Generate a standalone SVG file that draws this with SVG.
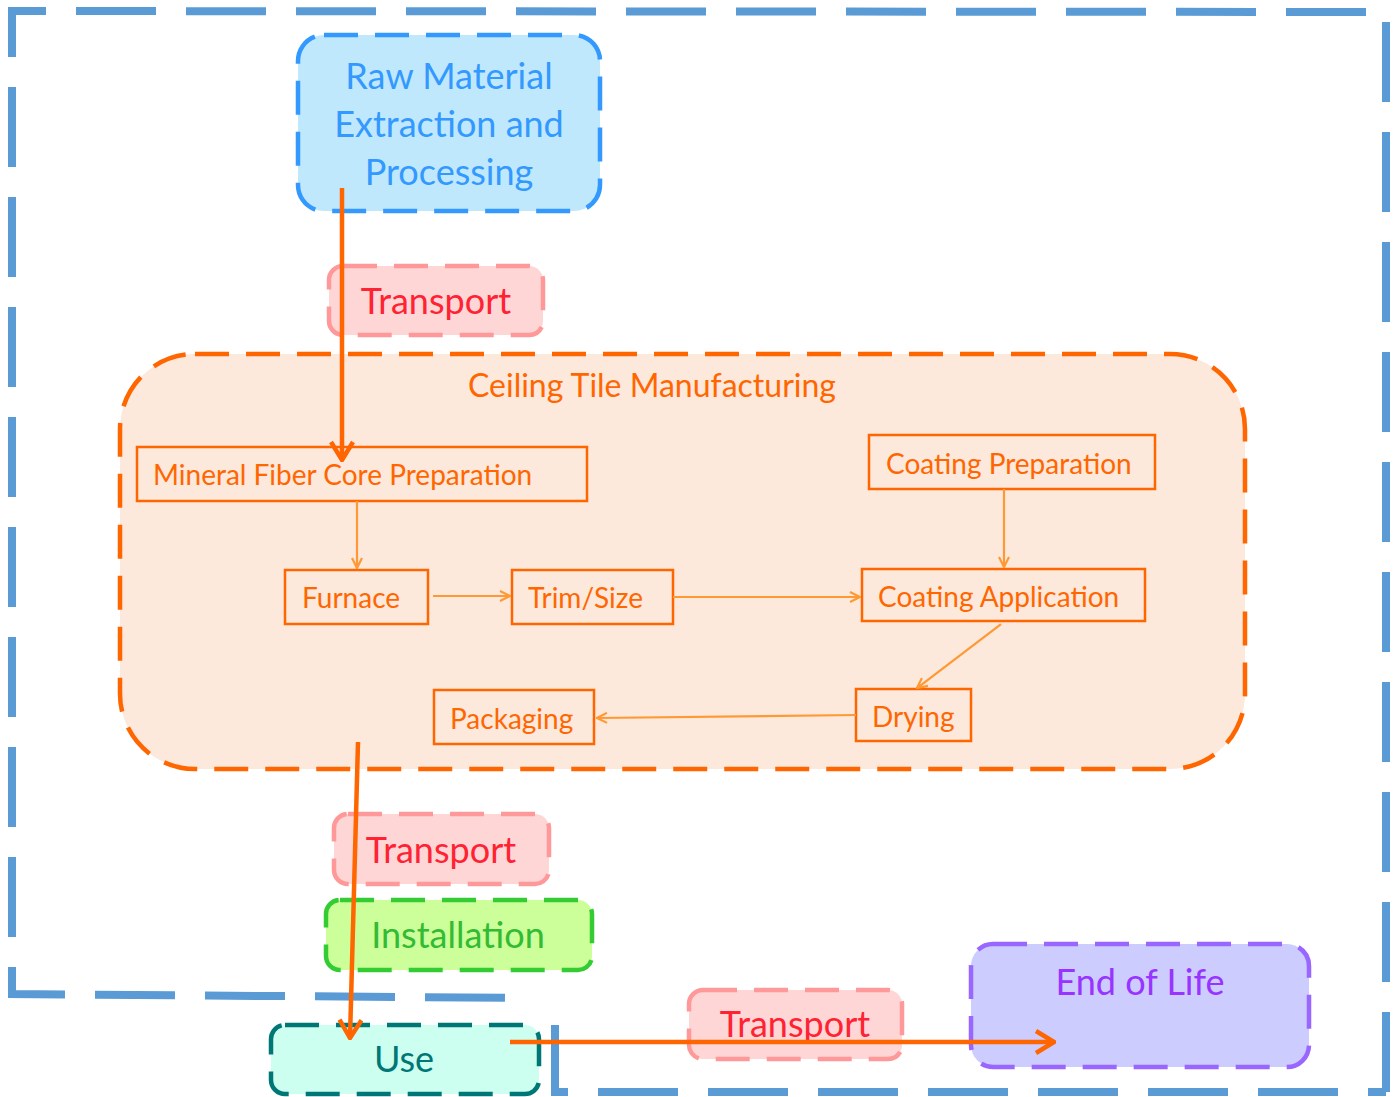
<svg xmlns="http://www.w3.org/2000/svg" width="1397" height="1097" viewBox="0 0 1397 1097">
<style>
text{font-family:Lato,"Liberation Sans",sans-serif}
.bnd{fill:none;stroke:#5b9bd5;stroke-width:8;stroke-dasharray:80 30}
.big{stroke-width:4.5;stroke-dasharray:34 17}
.step{fill:none;stroke:#ff6600;stroke-width:2.5}
.st{fill:#ff6600;font-size:28px}
.thin{fill:none;stroke:#ff9933;stroke-width:2.2}
.thick{fill:none;stroke:#ff6600;stroke-width:4.5}
.tr rect{fill:#ffd6d6;stroke:#ff9999}
.tr text{fill:#ff2233}
.lbl{font-size:36px;text-anchor:middle}
</style>
<defs>
<marker id="ah" viewBox="0 0 12 12" refX="11" refY="6" markerWidth="12" markerHeight="12" markerUnits="userSpaceOnUse" orient="auto">
<path d="M1,1 L11,6 L1,11" fill="none" stroke="#ff9933" stroke-width="2.2"/>
</marker>
<marker id="ahb" viewBox="0 0 22 26" refX="20" refY="13" markerWidth="22" markerHeight="26" markerUnits="userSpaceOnUse" orient="auto">
<path d="M2,2 L20,13 L2,24" fill="none" stroke="#ff6600" stroke-width="4.5"/>
</marker>
</defs>
<g id="boundary">
<path class="bnd" d="M1386,1092 L1386,12 L12,11 L12,994 L528,998"/>
<path class="bnd" d="M555,1025 L555,1092 L1386,1092"/>
</g>
<g id="raw">
<rect x="298" y="35" width="302" height="176" rx="26" fill="#c0e8fc" stroke="#3399ff" class="big"/>
<text class="lbl" x="449" y="89" fill="#3399ff">Raw Material</text>
<text class="lbl" x="449" y="137" fill="#3399ff">Extraction and</text>
<text class="lbl" x="449" y="185" fill="#3399ff">Processing</text>
</g>
<g id="transport1" class="tr">
<rect x="329" y="266" width="214" height="69" rx="14" class="big" stroke-width="3"/>
<text class="lbl" x="436" y="314">Transport</text>
</g>
<g id="manufacturing">
<rect x="120" y="354" width="1125" height="415" rx="75" fill="#fde8dc" stroke="#ff6600" class="big"/>
<text x="652" y="397" fill="#ff6600" font-size="32" text-anchor="middle">Ceiling Tile Manufacturing</text>
</g>
<g id="mineral"><rect class="step" x="137" y="447" width="450" height="54"/><text class="st" x="153" y="485">Mineral Fiber Core Preparation</text></g>
<g id="coatprep"><rect class="step" x="869" y="435" width="286" height="54"/><text class="st" x="886" y="474">Coating Preparation</text></g>
<g id="furnace"><rect class="step" x="285" y="570" width="143" height="54"/><text class="st" x="302" y="608">Furnace</text></g>
<g id="trim"><rect class="step" x="512" y="570" width="161" height="54"/><text class="st" x="528" y="608">Trim/Size</text></g>
<g id="coatapp"><rect class="step" x="862" y="569" width="283" height="52"/><text class="st" x="878" y="607">Coating Application</text></g>
<g id="drying"><rect class="step" x="856" y="689" width="115" height="52"/><text class="st" x="872" y="727">Drying</text></g>
<g id="packaging"><rect class="step" x="434" y="690" width="160" height="54"/><text class="st" x="450" y="729">Packaging</text></g>
<g id="transport2" class="tr">
<rect x="334" y="814" width="215" height="70" rx="14" class="big" stroke-width="3"/>
<text class="lbl" x="441" y="863">Transport</text>
</g>
<g id="installation">
<rect x="326" y="900" width="266" height="70" rx="14" fill="#ccff99" stroke="#33cc33" class="big" stroke-width="3.5"/>
<text class="lbl" x="458" y="948" fill="#33bb33">Installation</text>
</g>
<g id="use">
<rect x="271" y="1025" width="268" height="69" rx="14" fill="#ccfff0" stroke="#007777" class="big" stroke-width="3.5"/>
<text class="lbl" x="404" y="1072" fill="#007777">Use</text>
</g>
<g id="transport3" class="tr">
<rect x="689" y="990" width="213" height="69" rx="14" class="big" stroke-width="3"/>
<text class="lbl" x="795" y="1037">Transport</text>
</g>
<g id="endoflife">
<rect x="971" y="944" width="338" height="123" rx="22" fill="#ccccff" stroke="#9966ff" class="big" stroke-width="3.5"/>
<text class="lbl" x="1140" y="995" fill="#9933ff">End of Life</text>
</g>
<g id="connectors">
<path class="thin" d="M357,501 L357,568" marker-end="url(#ah)"/>
<path class="thin" d="M1004,489 L1004,567" marker-end="url(#ah)"/>
<path class="thin" d="M433,596 L510,596" marker-end="url(#ah)"/>
<path class="thin" d="M673,597 L860,597" marker-end="url(#ah)"/>
<path class="thin" d="M1001,624 L917,688" marker-end="url(#ah)"/>
<path class="thin" d="M856,715 L597,718" marker-end="url(#ah)"/>
<path class="thick" d="M342,188 L342,460" marker-end="url(#ahb)"/>
<path class="thick" d="M358,742 L350,1038" marker-end="url(#ahb)"/>
<path class="thick" d="M510,1042 L1054,1042" marker-end="url(#ahb)"/>
</g>
</svg>
